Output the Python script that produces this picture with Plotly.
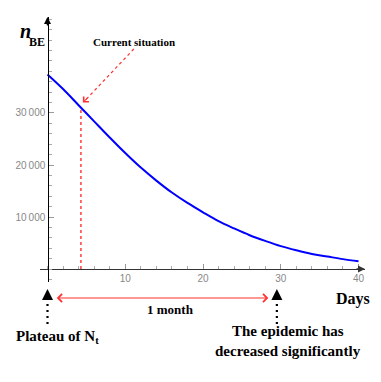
import plotly.graph_objects as go

# values
days = [0, 2, 4, 6, 8, 10, 12, 14, 16, 18, 20, 22, 24, 26, 28, 30, 32, 34, 36, 38, 40]
n_be = [37400, 34600, 31500, 28400, 25300, 22300, 19500, 17000, 14700, 12700, 10900,
        9200, 7800, 6500, 5400, 4400, 3600, 2900, 2400, 1900, 1500]
x_ticks = [10, 20, 30, 40]
y_ticks = [10000, 20000, 30000]
y_tick_text = ["10\u2009000", "20\u2009000", "30\u2009000"]
current_day = 4.3
current_value = 31000
plateau_day = 0
decline_day = 29.5
month_start, month_end = 1.0, 28.4

# the page body keeps its default 8px margin, so the figure is shrunk by that much
OFF = 8
W, H = 381 - OFF, 382 - OFF
L, R, T, B = 40 - OFF, 16, 17 - OFF, 100
XR = [-0.965, 40.835]
YR = [-2500, 48460]

RED = "#ff3030"
SERIF = "Liberation Serif"


def py(p):
    # window pixel row -> paper y
    return (H - B - (p - OFF)) / (H - T - B)


def px(p):
    # window pixel column -> paper x
    return (p - OFF - L) / (W - L - R)


fig = go.Figure()
fig.add_trace(go.Scatter(x=days, y=n_be, mode="lines", line=dict(color="#0000ff", width=2, shape="spline"),
                         hoverinfo="skip", showlegend=False))

shapes = [
    dict(type="line", xref="x", yref="y", x0=current_day, x1=current_day, y0=0, y1=current_value,
         line=dict(color=RED, width=1.4, dash="dot")),
    dict(type="line", xref="x", yref="y", x0=11.1, x1=4.7, y0=42300, y1=32200,
         line=dict(color=RED, width=1.2, dash="dot")),
    dict(type="line", xref="x", yref="paper", x0=plateau_day, x1=plateau_day, y0=py(298), y1=py(327),
         line=dict(color="black", width=2.2, dash="2px,4px")),
    dict(type="line", xref="x", yref="paper", x0=decline_day, x1=decline_day, y0=py(298), y1=py(327),
         line=dict(color="black", width=2.2, dash="2px,4px")),
]


def label(x, y, text, size):
    return dict(xref="paper", yref="paper", x=px(x), y=py(y), xanchor="center", yanchor="middle",
                text=text, showarrow=False, font=dict(family=SERIF, size=size, color="black"))


ann = [
    # axis arrow heads
    dict(xref="paper", yref="y", x=1, y=0, ax=-10, ay=0, text="", showarrow=True,
         arrowhead=2, arrowsize=1, arrowwidth=1.4, arrowcolor="#333"),
    dict(xref="x", yref="paper", x=0, y=1, ax=0, ay=10, text="", showarrow=True,
         arrowhead=2, arrowsize=1, arrowwidth=1.4, arrowcolor="black"),
    # current situation arrow head
    dict(xref="x", yref="y", x=current_day + 0.25, y=current_value + 1000, ax=6, ay=-6, text="",
         showarrow=True, arrowhead=4, arrowsize=1.3, arrowwidth=1.1, arrowcolor=RED),
    # black up arrows under the axis
    dict(xref="x", yref="paper", x=plateau_day, y=py(289), ax=0, ay=10, text="", showarrow=True,
         arrowhead=2, arrowsize=1.1, arrowwidth=2, arrowcolor="black"),
    dict(xref="x", yref="paper", x=decline_day, y=py(289), ax=0, ay=10, text="", showarrow=True,
         arrowhead=2, arrowsize=1.1, arrowwidth=2, arrowcolor="black"),
    # one month double arrow
    dict(xref="x", yref="paper", x=month_end, y=py(298), axref="x", ax=month_start, ay=0,
         text="", showarrow=True, arrowhead=4, startarrowhead=4, arrowside="end+start",
         arrowsize=1.3, startarrowsize=1.3, arrowwidth=1.2, arrowcolor=RED),
    # texts
    label(25, 31, "<b><i>n</i></b>", 20),
    label(37, 42, "<b>BE</b>", 12),
    label(134, 42, "<b>Current situation</b>", 11),
    label(353, 299, "<b>Days</b>", 16),
    label(170, 309, "<b>1 month</b>", 13),
    label(57, 337, "<b>Plateau of N<sub>t</sub></b>", 15),
    label(288, 331, "<b>The epidemic has</b>", 15),
    label(288, 351, "<b>decreased significantly</b>", 15),
]

fig.update_xaxes(range=XR, anchor="free", position=(0 - YR[0]) / (YR[1] - YR[0]),
                 showline=True, linecolor="#333", linewidth=1.4, showgrid=False, zeroline=False,
                 tickvals=x_ticks, ticks="inside", ticklen=5, tickcolor="#999", tickwidth=1,
                 minor=dict(dtick=2, tick0=0, ticks="inside", ticklen=3, tickcolor="#aaa"),
                 tickfont=dict(family="Liberation Sans", size=10, color="#888"), automargin=False)
fig.update_yaxes(range=YR, anchor="free", position=(0 - XR[0]) / (XR[1] - XR[0]),
                 showline=True, linecolor="black", linewidth=1.4, showgrid=False, zeroline=False,
                 tickvals=y_ticks, ticktext=y_tick_text, ticks="inside", ticklen=5, tickcolor="#999", tickwidth=1,
                 minor=dict(dtick=2000, tick0=0, ticks="inside", ticklen=3, tickcolor="#aaa"),
                 tickfont=dict(family="Liberation Sans", size=10, color="#888"), automargin=False)
fig.update_layout(width=W, height=H, margin=dict(l=L, r=R, t=T, b=B), plot_bgcolor="white",
                  paper_bgcolor="white", shapes=shapes, annotations=ann, showlegend=False)
fig.write_html("out.html")
